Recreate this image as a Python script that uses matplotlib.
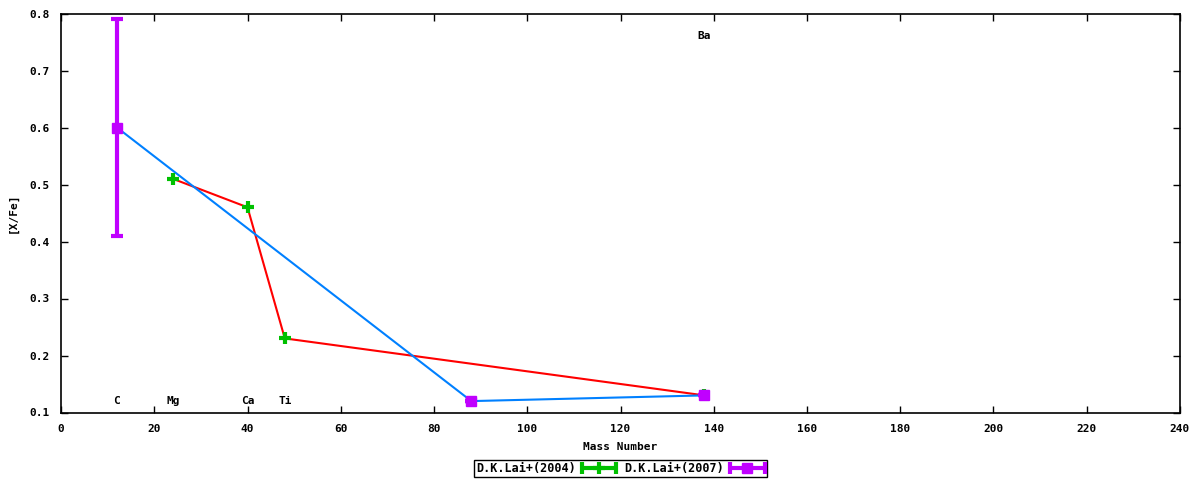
import numpy as np
import matplotlib
matplotlib.use("Agg")
import matplotlib.pyplot as plt
from matplotlib.legend_handler import HandlerErrorbar
from matplotlib.container import ErrorbarContainer

# D.K.Lai+(2004)
mass_2004 = [24, 40, 48, 138]
xfe_2004 = [0.51, 0.46, 0.23, 0.13]

# D.K.Lai+(2007)
mass_2007 = [12, 88, 138]
xfe_2007 = [0.60, 0.12, 0.13]
err_2007 = [0.19, 0.0, 0.0]

# element labels
elements = ["C", "Mg", "Ca", "Ti", "Sr", "Ba"]
elem_mass = [12, 24, 40, 48, 88, 138]
elem_y = [0.12, 0.12, 0.12, 0.12, 0.12, 0.76]

xticks = np.arange(0, 241, 20)
yticks = np.arange(0.1, 0.81, 0.1)

GREEN = "#00c000"
PURPLE = "#c000ff"
RED = "#ff0000"
BLUE = "#0080ff"

plt.rcParams["font.family"] = ["DejaVu Sans Mono"]
plt.rcParams["font.weight"] = "bold"
plt.rcParams["font.size"] = 8

W, H = 1200, 480
left, right, top, bottom = 61, 1180, 13.5, 412.5
fig = plt.figure(figsize=(12, 4.8), dpi=100)
ax = fig.add_axes([left / W, 1 - bottom / H, (right - left) / W, (bottom - top) / H])

for e, m, y in zip(elements, elem_mass, elem_y):
    ax.text(m, y, e, ha="center", va="center", fontweight="bold", zorder=1)

ax.plot(mass_2004, xfe_2004, color=RED, lw=1.5, zorder=2)
ax.errorbar(mass_2004, xfe_2004, fmt="+", color=GREEN, ms=9, mew=3, zorder=3)
ax.plot(mass_2007, xfe_2007, color=BLUE, lw=1.5, zorder=2)
ax.errorbar(mass_2007, xfe_2007, yerr=err_2007, fmt="s", color=PURPLE, ms=7,
            elinewidth=3, capsize=4, capthick=3, zorder=4)

# legend proxies (gnuplot style: horizontal bar with end caps)
h1 = ax.errorbar([np.nan], [np.nan], xerr=[1], fmt="+", color=GREEN, ms=9, mew=3,
                 elinewidth=3, capsize=4, capthick=3, label="D.K.Lai+(2004)")
h2 = ax.errorbar([np.nan], [np.nan], xerr=[1], fmt="s", color=PURPLE, ms=7,
                 elinewidth=3, capsize=4, capthick=3, label="D.K.Lai+(2007)")

ax.set_xlim(0, 240)
ax.set_ylim(0.1, 0.8)
ax.set_xticks(xticks)
ax.set_yticks(yticks)
ax.set_yticklabels([f"{v:.1f}" for v in yticks])
ax.tick_params(direction="in", top=True, right=True, length=5, width=1, pad=8)
for s in ax.spines.values():
    s.set_linewidth(1.2)
ax.set_xlabel("Mass Number", fontweight="bold", va="center")
ax.set_ylabel("[X/Fe]", fontweight="bold", va="center")
ax.xaxis.set_label_coords(0.5, (bottom - 447) / (bottom - top))
ax.yaxis.set_label_coords((13 - left) / (right - left), 0.5)

fig.legend(handles=[h1, h2], loc="center", bbox_to_anchor=(620.5 / W, 1 - 468.5 / H),
           ncol=2, markerfirst=False, frameon=True, fancybox=False, edgecolor="black",
           framealpha=1, handlelength=3, columnspacing=0.6, handletextpad=0.5,
           borderpad=0.15, borderaxespad=0, prop={"size": 8.5, "weight": "bold"},
           handler_map={ErrorbarContainer: HandlerErrorbar(xerr_size=1.45)})

fig.savefig("out.png", dpi=100)
